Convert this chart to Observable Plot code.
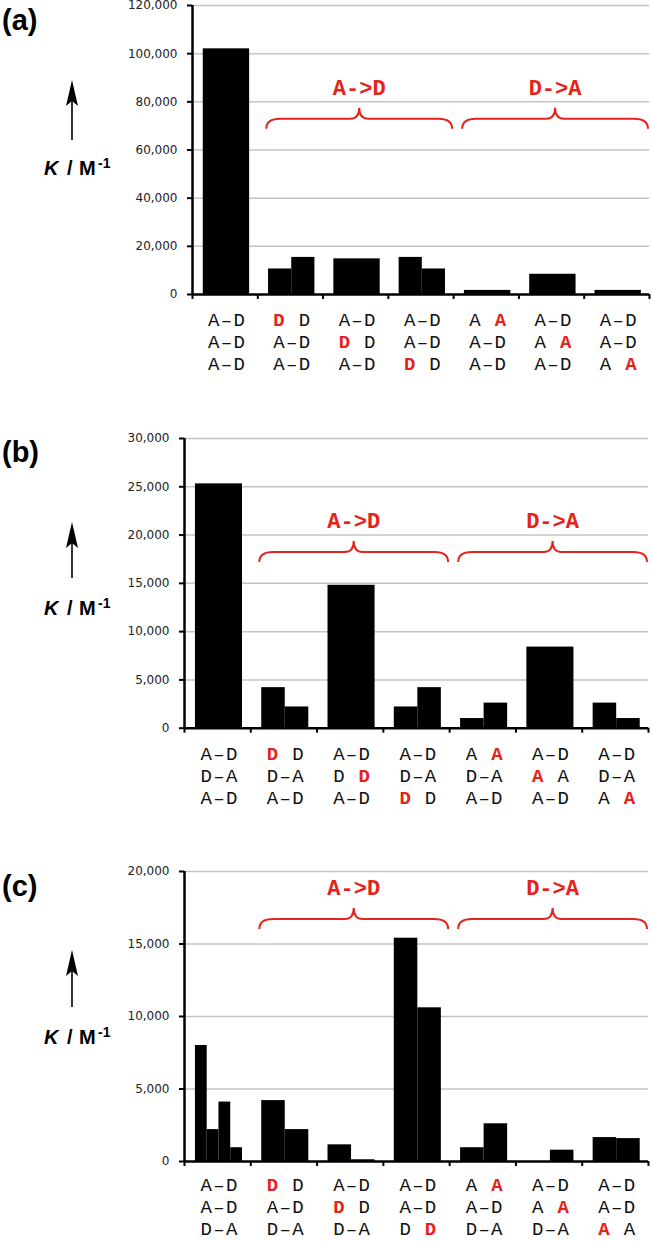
<!DOCTYPE html>
<html><head><meta charset="utf-8">
<script src="https://cdn.jsdelivr.net/npm/d3@7"></script>
<script src="https://cdn.jsdelivr.net/npm/@observablehq/plot@0.6"></script>
<style>
body{margin:0;background:#fff;}
#fig svg{display:block;}
</style></head><body><div id="fig"></div>
<script>
// ---------- data ----------
const panelNames = ["(a)", "(b)", "(c)"];
const groupLabels = ["A->D", "D->A"];
const groupSpans = [[1, 4], [4, 7]];       // category index ranges covered by each brace

const ticksA = [0, 20000, 40000, 60000, 80000, 100000, 120000];
const ticksB = [0, 5000, 10000, 15000, 20000, 25000, 30000];
const ticksC = [0, 5000, 10000, 15000, 20000];

// K values per category (one or more sub-bars per category)
const valuesA = [[102000], [10600, 15400], [14800], [15400, 10600], [1700], [8400], [1700]];
const valuesB = [[25300], [4200, 2200], [14800], [2200, 4200], [1000, 2600], [8400], [2600, 1000]];
const valuesC = [[8000, 2200, 4100, 950], [4200, 2200], [1150, 120], [15400, 10600], [950, 2600], [0, 780], [1650, 1580]];

// category labels: "*" marks the following letter as the red (bold) one
const labelsA = [
  ["A–D", "A–D", "A–D"], ["*D D", "A–D", "A–D"], ["A–D", "*D D", "A–D"], ["A–D", "A–D", "*D D"],
  ["A *A", "A–D", "A–D"], ["A–D", "A *A", "A–D"], ["A–D", "A–D", "A *A"]
];
const labelsB = [
  ["A–D", "D–A", "A–D"], ["*D D", "D–A", "A–D"], ["A–D", "D *D", "A–D"], ["A–D", "D–A", "*D D"],
  ["A *A", "D–A", "A–D"], ["A–D", "*A A", "A–D"], ["A–D", "D–A", "A *A"]
];
const labelsC = [
  ["A–D", "A–D", "D–A"], ["*D D", "A–D", "D–A"], ["A–D", "*D D", "D–A"], ["A–D", "A–D", "D *D"],
  ["A *A", "A–D", "D–A"], ["A–D", "A *A", "D–A"], ["A–D", "A–D", "*A A"]
];
// brace baseline levels (in K units)
const braceLevels = [72800, 18200, 16690];

// ---------- layout ----------
const W = 652;
const layouts = [
  {h: 400, mt: 5,  mb: 106,  ml: 192, mr: 3, max: 120000, ticks: ticksA, values: valuesA, labels: labelsA, base: 32, letterY: 30, tip: 80,  tail: 140, kY: 175},
  {h: 420, mt: 38, mb: 92.3, ml: 184, mr: 4, max: 30000,  ticks: ticksB, values: valuesB, labels: labelsB, base: 32, letterY: 62, tip: 122, tail: 178, kY: 215},
  {h: 421, mt: 51, mb: 80,   ml: 184, mr: 4, max: 20000,  ticks: ticksC, values: valuesC, labels: labelsC, base: 30, letterY: 76, tip: 130, tail: 187, kY: 224}
];
const RED = "#e5231b";
const MONO = "'Courier New', 'Liberation Mono', monospace";
const SANS = "'Liberation Sans', Arial, sans-serif";
const NB = "\u00a0";
const fmt = d3.format(",");

function barRows(values) {
  const frac = 0.71, shift = 0.02, rows = [];
  values.forEach((vs, i) => {
    const w = frac / vs.length;
    vs.forEach((v, j) => {
      const x1 = i + (1 - frac) / 2 + shift + j * w;
      rows.push({x1, x2: x1 + w, y: v});
    });
  });
  return rows;
}

// category labels: one <text> per line, red letter as a bold tspan
function categoryLabels(L) {
  return (index, scales) => {
    const {x, y} = scales;
    const g = d3.create("svg:g").attr("font-family", MONO).attr("font-size", 19)
      .attr("letter-spacing", 1.3).attr("fill", "#111");
    L.labels.forEach((lines, i) => {
      lines.forEach((s, k) => {
        const t = g.append("text").attr("x", x(i + 0.5) + 2.5).attr("y", y(0) + L.base + k * 22)
          .attr("text-anchor", "middle");
        let buf = "";
        for (let c = 0; c < s.length; c++) {
          if (s[c] === "*") {
            if (buf) { t.append("tspan").text(buf); buf = ""; }
            t.append("tspan").attr("fill", RED).attr("font-weight", "bold").text(s[c + 1]);
            c++;
          } else buf += s[c] === " " ? NB : s[c];
        }
        if (buf) t.append("tspan").text(buf);
      });
    });
    return g.node();
  };
}

function annotations(p, L) {
  return (index, scales) => {
    const {x, y} = scales;
    const g = d3.create("svg:g");
    groupSpans.forEach(([a, b], k) => {
      const x0 = x(a) + 9, x1 = x(b) - 1, xc = (x0 + x1) / 2;
      const yh = y(braceLevels[p]), ye = yh + 10, yp = yh - 11;
      g.append("path")
        .attr("fill", "none").attr("stroke", RED).attr("stroke-width", 2)
        .attr("d", `M${x0},${ye} Q${x0},${yh} ${x0 + 14},${yh} L${xc - 9},${yh} Q${xc},${yh} ${xc},${yp} Q${xc},${yh} ${xc + 9},${yh} L${x1 - 14},${yh} Q${x1},${yh} ${x1},${ye}`);
      g.append("text").attr("x", xc).attr("y", yh - 24).attr("text-anchor", "middle")
        .attr("fill", RED).attr("font-family", MONO).attr("font-weight", "bold").attr("font-size", 22)
        .text(groupLabels[k]);
    });
    // panel letter
    g.append("text").attr("x", 2).attr("y", L.letterY).attr("text-anchor", "start").attr("font-family", SANS)
      .attr("font-weight", "bold").attr("font-size", 29).attr("fill", "black").text(panelNames[p]);
    // arrow
    const ax = 72;
    g.append("line").attr("x1", ax).attr("x2", ax).attr("y1", L.tail).attr("y2", L.tip + 18)
      .attr("stroke", "black").attr("stroke-width", 1.6);
    g.append("path").attr("fill", "black")
      .attr("d", `M${ax},${L.tip} L${ax + 6},${L.tip + 26} L${ax},${L.tip + 21} L${ax - 6},${L.tip + 26} Z`);
    // K / M-1
    const t = g.append("text").attr("y", L.kY).attr("text-anchor", "start").attr("font-family", SANS)
      .attr("font-weight", "bold").attr("font-size", 20).attr("fill", "black");
    t.append("tspan").attr("x", 44).attr("font-style", "italic").text("K");
    t.append("tspan").attr("x", 67).text("/");
    t.append("tspan").attr("x", 79).text("M");
    t.append("tspan").attr("x", 98).attr("font-size", 14).attr("dy", -7).text("-1");
    return g.node();
  };
}

const fig = document.getElementById("fig");
layouts.forEach((L, p) => {
  const chart = Plot.plot({
    width: W, height: L.h,
    marginTop: L.mt, marginBottom: L.mb, marginLeft: L.ml, marginRight: L.mr,
    style: {fontFamily: "'DejaVu Sans', Verdana, sans-serif", fontSize: "12px", color: "black", background: "white", overflow: "visible"},
    x: {type: "linear", domain: [0, 7]},
    y: {type: "linear", domain: [0, L.max]},
    marks: [
      Plot.ruleY(L.ticks.filter(t => t > 0), {stroke: "#c4c4c4", strokeWidth: 1.5}),
      Plot.rectY(barRows(L.values), {x1: "x1", x2: "x2", y: "y", fill: "black"}),
      Plot.axisY({ticks: L.ticks, tickFormat: fmt, tickSize: 5, tickPadding: 10, strokeWidth: 2, label: null, fill: "#222"}),
      Plot.axisX({ticks: d3.range(8), tickFormat: () => "", tickSize: 5, strokeWidth: 2, label: null}),
      Plot.ruleX([0], {stroke: "black", strokeWidth: 2.5}),
      Plot.ruleY([0], {stroke: "black", strokeWidth: 2.5}),
      categoryLabels(L),
      annotations(p, L)
    ]
  });
  fig.appendChild(chart);
});
</script></body></html>
